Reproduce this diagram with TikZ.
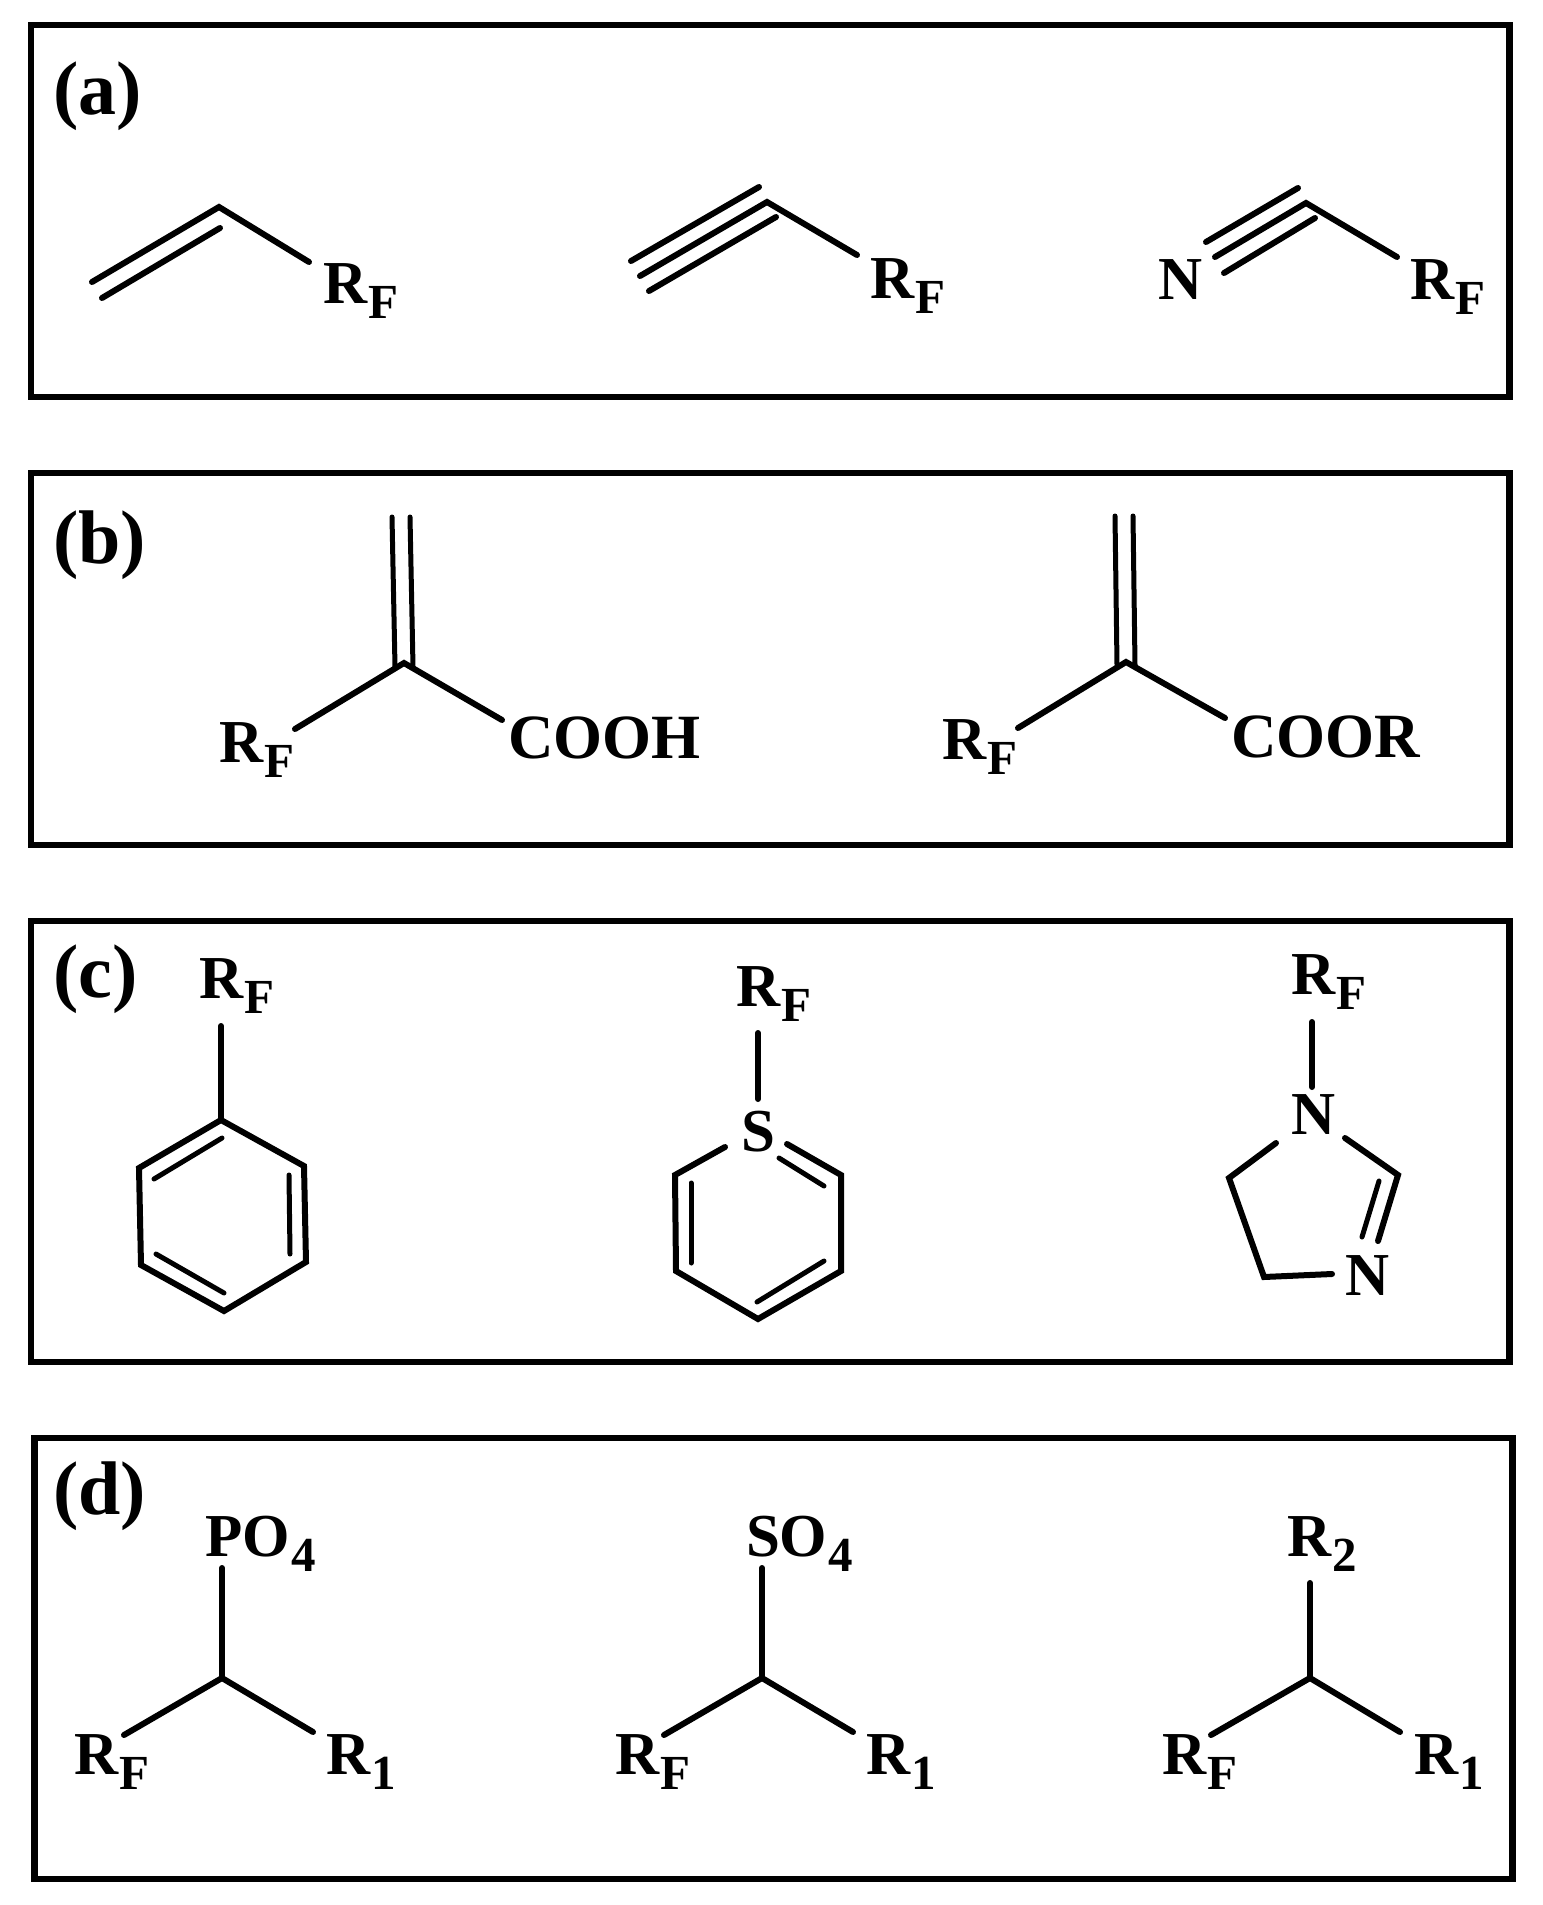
\documentclass[tikz,border=0pt]{standalone}
\usepackage{fontspec}
\setmainfont{Liberation Serif}[BoldFont={Liberation Serif Bold}]
\newcommand{\Sb}[1]{\kern1.5pt\raisebox{-15.5pt}{\fontsize{49}{49}\selectfont #1}}
\newcommand{\RFl}{R\Sb{F}}
\tikzset{
  panel/.style={draw=black,line width=6.4pt,line join=miter},
  bond/.style={draw=black,line width=6pt,line cap=round,line join=miter},
  bondthin/.style={draw=black,line width=5pt,line cap=round,line join=miter},
  atom/.style={anchor=base west,inner sep=0pt,outer sep=0pt,text=black,font=\bfseries\fontsize{61}{61}\selectfont},
  atomwide/.style={atom,font=\bfseries\fontsize{63}{63}\selectfont},
  tag/.style={atom,font=\bfseries\fontsize{76}{76}\selectfont}
}
\begin{document}
\begin{tikzpicture}[x=1pt,y=-1pt]
\useasboundingbox (0,0) rectangle (1542,1905);
\fill[white] (0,0) rectangle (1542,1905);
% panels
\foreach \n/\x/\y in {pal/31/25,par/1509.5/396.7,pbl/31/473,pbr/1509.5/845,pcl/31/921,pcr/1509.5/1362,pdl/34.5/1438,pdr/1512.5/1879}
  \coordinate (\n) at (\x,\y);
\draw[panel] (pal) rectangle (par);
\draw[panel] (pbl) rectangle (pbr);
\draw[panel] (pcl) rectangle (pcr);
\draw[panel] (pdl) rectangle (pdr);
% tags
\node[tag] (taga) at (53,115) {(a)};
\node[tag] (tagb) at (53,563) {(b)};
\node[tag] (tagc) at (53,997) {(c)};
\node[tag] (tagd) at (53,1514) {(d)};
% ---------- (a)
\foreach \n/\x/\y in {
  aa/92/282,ab/219/207,ac/309/262,ad/102/298,ae/220/228,
  ba/631/261,bb/759/187,bc/640/276,bd/767/202,be/649/291,bf/776/217,bg/857/255,
  ca/1206/242,cb/1298/188,cc/1215/257,cd/1306/203,ce/1224/273,cf/1315/218,cg/1397/257}
  \coordinate (\n) at (\x,\y);
\draw[bond] (aa) -- (ab) -- (ac);
\draw[bond] (ad) -- (ae);
\draw[bond] (ba) -- (bb);
\draw[bond] (bc) -- (bd) -- (bg);
\draw[bond] (be) -- (bf);
\draw[bond] (ca) -- (cb);
\draw[bond] (cc) -- (cd) -- (cg);
\draw[bond] (ce) -- (cf);
\node[atom] (a1r) at (323,303) {\RFl};
\node[atom] (a2r) at (870,298) {\RFl};
\node[atom] (a3n) at (1158,299) {N};
\node[atom] (a3r) at (1410,299) {\RFl};
% ---------- (b)
\foreach \n/\x/\y in {
  da/404/663,db/392/517,dc/395/667,dd/410/517,de/413/667,df/295/729,dg/502/720,
  ea/1126/662,eb/1115/516,ec/1117/665,ed/1133/516,ee/1135/665,ef/1018/728,eg/1225/718}
  \coordinate (\n) at (\x,\y);
\draw[bondthin] (db) -- (dc);
\draw[bondthin] (dd) -- (de);
\draw[bond] (df) -- (da) -- (dg);
\draw[bondthin] (eb) -- (ec);
\draw[bondthin] (ed) -- (ee);
\draw[bond] (ef) -- (ea) -- (eg);
\node[atom] (b1r) at (219,762) {\RFl};
\node[atomwide] (b1c) at (508,758) {COOH};
\node[atom] (b2r) at (942,759) {\RFl};
\node[atomwide] (b2c) at (1231,757) {COOR};
% ---------- (c) benzene
\foreach \n/\x/\y in {
  fa/221/1120,fb/304/1166,fc/306/1262,fd/224/1311,fe/141/1265,ff/139/1168,fg/221/1026,
  fh/154/1179,fi/222/1138,fj/289/1175,fk/290/1254,fl/156/1254,fm/224/1293}
  \coordinate (\n) at (\x,\y);
\draw[bond] (fa) -- (fb) -- (fc) -- (fd) -- (fe) -- (ff) -- cycle;
\draw[bond] (fg) -- (fa);
\draw[bondthin] (fh) -- (fi);
\draw[bondthin] (fj) -- (fk);
\draw[bondthin] (fl) -- (fm);
\node[atom] (c1r) at (199,998) {\RFl};
% ---------- (c) thiopyrylium
\foreach \n/\x/\y in {
  ga/725/1147,gb/675/1175,gc/676/1271,gd/758/1319,ge/841/1271,gf/841/1175,gg/787/1144,
  gh/779/1158,gi/824/1186,gj/691/1183,gk/691/1263,gl/824/1261,gm/757/1302,gn/758/1033,go/758/1099}
  \coordinate (\n) at (\x,\y);
\draw[bond] (ga) -- (gb) -- (gc) -- (gd) -- (ge) -- (gf) -- (gg);
\draw[bondthin] (gh) -- (gi);
\draw[bondthin] (gj) -- (gk);
\draw[bondthin] (gl) -- (gm);
\draw[bond] (gn) -- (go);
\node[atom] (c2r) at (736,1006) {\RFl};
\node[atom] (c2s) at (741,1151) {S};
% ---------- (c) imidazoline
\foreach \n/\x/\y in {
  ha/1312/1022,hb/1312/1087,hc/1276/1143,hd/1229/1178,he/1264/1277,hf/1332/1274,
  hg/1345/1138,hh/1398/1175,hi/1378/1241,hj/1379/1181,hk/1362/1237}
  \coordinate (\n) at (\x,\y);
\draw[bond] (ha) -- (hb);
\draw[bond] (hc) -- (hd) -- (he) -- (hf);
\draw[bond] (hg) -- (hh) -- (hi);
\draw[bondthin] (hj) -- (hk);
\node[atom] (c3r) at (1291,994) {\RFl};
\node[atom] (c3n) at (1291,1134) {N};
\node[atom] (c3m) at (1345,1295) {N};
% ---------- (d)
\foreach \n/\x/\y in {
  ia/222/1678,ib/222/1568,ic/124/1735,id/313/1732,
  ja/762/1678,jb/762/1568,jc/664/1735,jd/853/1732,
  ka/1310/1678,kb/1310/1583,kc/1211/1735,kd/1400/1732}
  \coordinate (\n) at (\x,\y);
\draw[bond] (ib) -- (ia);
\draw[bond] (ic) -- (ia) -- (id);
\draw[bond] (jb) -- (ja);
\draw[bond] (jc) -- (ja) -- (jd);
\draw[bond] (kb) -- (ka);
\draw[bond] (kc) -- (ka) -- (kd);
\node[atom] (d1t) at (205,1556) {PO\Sb{4}};
\node[atom] (d1r) at (74,1774) {\RFl};
\node[atom] (d1s) at (326,1774) {R\Sb{1}};
\node[atom] (d2t) at (746,1556) {SO\Sb{4}};
\node[atom] (d2r) at (615,1774) {\RFl};
\node[atom] (d2s) at (866,1774) {R\Sb{1}};
\node[atom] (d3t) at (1287,1556) {R\Sb{2}};
\node[atom] (d3r) at (1162,1774) {\RFl};
\node[atom] (d3s) at (1414,1774) {R\Sb{1}};
\end{tikzpicture}
\end{document}
